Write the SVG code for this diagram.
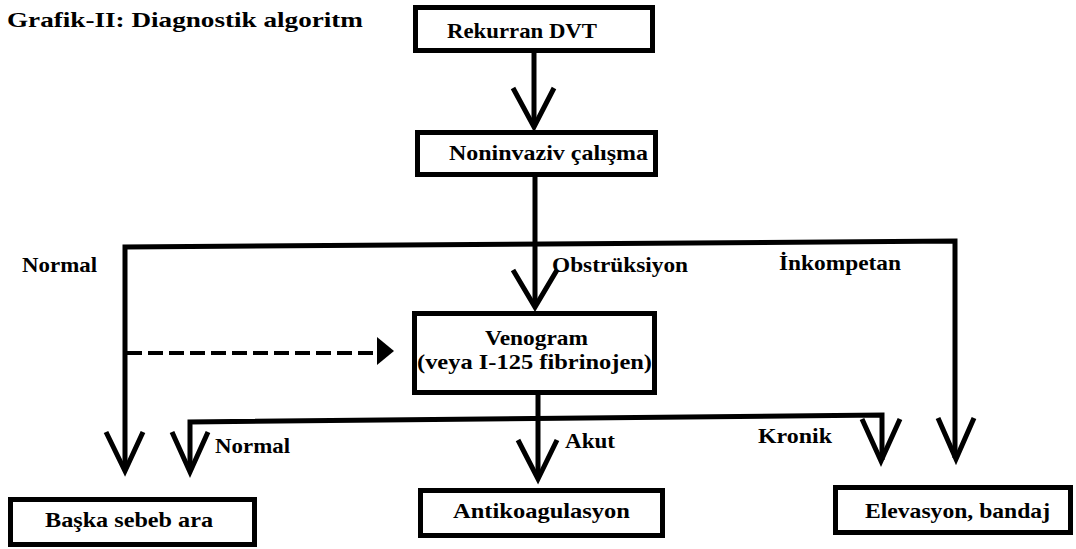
<svg xmlns="http://www.w3.org/2000/svg" width="1076" height="549" viewBox="0 0 1076 549">
<style>
.box{fill:#fff;stroke:#000;stroke-width:5}
.t{font-family:"Liberation Serif","Times New Roman",serif;font-weight:bold;fill:#000;font-size:22px}
.ln{fill:none;stroke:#000;stroke-width:5;stroke-linejoin:miter;stroke-miterlimit:10}
.ah{fill:none;stroke:#000;stroke-width:5;stroke-linejoin:miter;stroke-miterlimit:12}
.dash{fill:none;stroke:#000;stroke-width:4;stroke-dasharray:15 6}
</style>
<rect width="1076" height="549" fill="#fff"/>
<text class="t" x="7" y="27" font-size="24" textLength="356" lengthAdjust="spacingAndGlyphs">Grafik-II: Diagnostik algoritm</text>

<g id="connectors">
  <path class="ln" d="M534,53 V126"/>
  <polyline class="ah" points="513,88 534,127 554,88"/>
  <path class="ln" d="M535,177 V306"/>
  <polyline class="ah" points="513,270 535,307 557,270"/>
  <path class="ln" d="M125,470 V247 L955,241 V458"/>
  <polyline class="ah" points="106,432 125,471 143,432"/>
  <polyline class="ah" points="938,418 956,459 974,418"/>
  <path class="dash" d="M127,353 H377"/>
  <polygon points="377,337 394,351 377,365" fill="#000"/>
  <path class="ln" d="M538,395 V478"/>
  <polyline class="ah" points="518,440 538,479 557,440"/>
  <path class="ln" d="M190,471 V422 L882,415 V460"/>
  <polyline class="ah" points="172,432 190,472 208,432"/>
  <polyline class="ah" points="862,419 881,461 900,419"/>
  <text class="t" x="22" y="272" textLength="75" lengthAdjust="spacingAndGlyphs">Normal</text>
  <text class="t" x="552" y="272" textLength="136" lengthAdjust="spacingAndGlyphs">Obstrüksiyon</text>
  <text class="t" x="779" y="270" textLength="122" lengthAdjust="spacingAndGlyphs">İnkompetan</text>
  <text class="t" x="215" y="453" textLength="75" lengthAdjust="spacingAndGlyphs">Normal</text>
  <text class="t" x="565" y="448" textLength="50" lengthAdjust="spacingAndGlyphs">Akut</text>
  <text class="t" x="758" y="443" textLength="74" lengthAdjust="spacingAndGlyphs">Kronik</text>
</g>

<g id="rekurran">
  <rect class="box" x="415.5" y="7.5" width="237" height="43"/>
  <text class="t" x="447" y="38" textLength="150" lengthAdjust="spacingAndGlyphs">Rekurran DVT</text>
</g>
<g id="noninvaziv">
  <rect class="box" x="417.5" y="132.5" width="238" height="42"/>
  <text class="t" x="449" y="160" textLength="199" lengthAdjust="spacingAndGlyphs">Noninvaziv çalışma</text>
</g>
<g id="venogram">
  <rect class="box" x="414.5" y="313.5" width="240" height="79"/>
  <text class="t" x="485" y="345" textLength="103" lengthAdjust="spacingAndGlyphs">Venogram</text>
  <text class="t" x="417" y="369" textLength="235" lengthAdjust="spacingAndGlyphs">(veya I-125 fibrinojen)</text>
</g>
<g id="baska">
  <rect class="box" x="10.5" y="499.5" width="244" height="45"/>
  <text class="t" x="45" y="527" textLength="168" lengthAdjust="spacingAndGlyphs">Başka sebeb ara</text>
</g>
<g id="antikoagulasyon">
  <rect class="box" x="420.5" y="490.5" width="242" height="45"/>
  <text class="t" x="453" y="518" textLength="177" lengthAdjust="spacingAndGlyphs">Antikoagulasyon</text>
</g>
<g id="elevasyon">
  <rect class="box" x="835.5" y="487.5" width="235" height="45"/>
  <text class="t" x="865" y="518" textLength="185" lengthAdjust="spacingAndGlyphs">Elevasyon, bandaj</text>
</g>
</svg>
